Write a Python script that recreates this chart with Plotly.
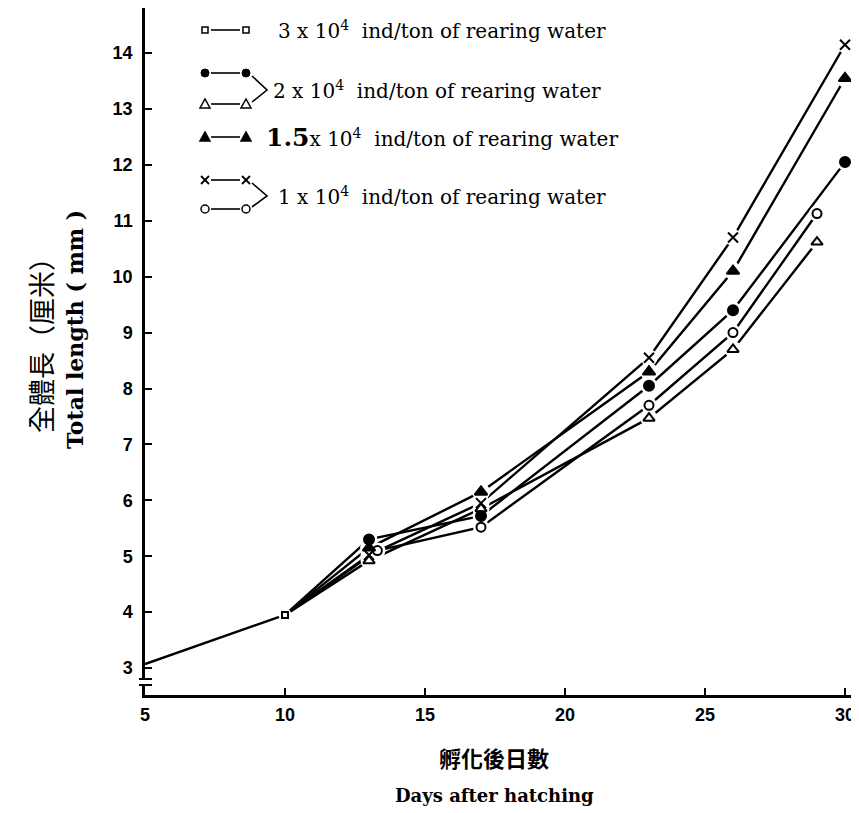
import plotly.graph_objects as go

# ---------------- data ----------------
x_ticks = [5, 10, 15, 20, 25, 30]
y_ticks = [3, 4, 5, 6, 7, 8, 9, 10, 11, 12, 13, 14]

# 3 x 10^4 ind/ton (common early growth)
days_sq = [5, 10]
len_sq = [3.07, 3.95]

# 2 x 10^4 ind/ton, filled circles
days_fc = [10, 13, 17, 23, 26, 30]
len_fc = [3.95, 5.30, 5.72, 8.05, 9.40, 12.05]

# 2 x 10^4 ind/ton, open triangles
days_ot = [10, 13, 17, 23, 26, 29]
len_ot = [3.95, 4.92, 5.85, 7.47, 8.70, 10.62]

# 1.5 x 10^4 ind/ton, filled triangles
days_ft = [10, 13, 17, 23, 26, 30]
len_ft = [3.95, 5.15, 6.15, 8.30, 10.10, 13.55]

# 1 x 10^4 ind/ton, crosses
days_x = [10, 13, 17, 23, 26, 30]
len_x = [3.95, 5.02, 5.95, 8.55, 10.70, 14.15]

# 1 x 10^4 ind/ton, open circles
days_oc = [10, 13.3, 17, 23, 26, 29]
len_oc = [3.95, 5.10, 5.52, 7.70, 9.00, 11.13]

legend_labels = [
    "3 x 10<sup>4</sup>  ind/ton of rearing water",
    "2 x 10<sup>4</sup>  ind/ton of rearing water",
    "<b><span style='font-size:25px'>1.5</span></b>x 10<sup>4</sup>  ind/ton of rearing water",
    "1 x 10<sup>4</sup>  ind/ton of rearing water",
]

y_title_zh = "全體長（厘米）"
y_title_en = "Total length ( mm )"
x_title_zh = "孵化後日數"
x_title_en = "Days after hatching"

# ---------------- layout geometry ----------------
# page body has an 8px margin, so the figure is shifted by 8px; compensate
OFF = 8
W, H = 859 - OFF, 813 - OFF
PL, PR, PT, PB = 145, 859, 8, 695      # plot area in reference pixels
L = PL - OFF
T = PT - OFF
R = 0
B = H - (PB - OFF)
PW, PH = PR - PL, PB - PT


def px(xp):
    return (xp - PL) / PW


def py(yp):
    return (PB - yp) / PH


fig = go.Figure()

# series: (days, values, symbol, size, first marker index)
series = [
    (days_sq, len_sq, "square-open", 6, 1),
    (days_fc, len_fc, "circle", 10, 1),
    (days_ot, len_ot, "triangle-up-open", 10, 1),
    (days_ft, len_ft, "triangle-up", 11, 1),
    (days_x, len_x, "x-thin-open", 10, 1),
    (days_oc, len_oc, "circle-open", 9, 1),
]

for d, v, sym, sz, i0 in series:
    fig.add_trace(go.Scatter(x=d, y=v, mode="lines",
                             line=dict(color="black", width=2.4),
                             showlegend=False, hoverinfo="skip"))
for d, v, sym, sz, i0 in series:
    fig.add_trace(go.Scatter(x=d[i0:], y=v[i0:], mode="markers",
                             marker=dict(symbol="circle", size=sz + 7, color="white",
                                         line=dict(width=0)),
                             showlegend=False, hoverinfo="skip"))
for d, v, sym, sz, i0 in series:
    fig.add_trace(go.Scatter(x=d[i0:], y=v[i0:], mode="markers",
                             marker=dict(symbol=sym, size=sz, color="black",
                                         line=dict(color="black", width=2)),
                             showlegend=False))

# ---------------- custom legend ----------------
shapes = []


def glyph(kind, cx, cy, r=4):
    x0, x1 = px(cx - r), px(cx + r)
    y0, y1 = py(cy + r), py(cy - r)
    if kind == "square":
        shapes.append(dict(type="rect", xref="paper", yref="paper", x0=px(cx - 3), x1=px(cx + 3),
                           y0=py(cy + 3), y1=py(cy - 3), line=dict(color="black", width=1.5),
                           fillcolor="white"))
    elif kind == "fcircle":
        shapes.append(dict(type="circle", xref="paper", yref="paper", x0=x0, x1=x1, y0=y0, y1=y1,
                           line=dict(color="black", width=1), fillcolor="black"))
    elif kind == "ocircle":
        shapes.append(dict(type="circle", xref="paper", yref="paper", x0=x0, x1=x1, y0=y0, y1=y1,
                           line=dict(color="black", width=1.5), fillcolor="white"))
    elif kind in ("otri", "ftri"):
        path = "M {} {} L {} {} L {} {} Z".format(px(cx - r - 1), py(cy + r), px(cx + r + 1), py(cy + r),
                                                  px(cx), py(cy - r - 1))
        shapes.append(dict(type="path", xref="paper", yref="paper", path=path,
                           line=dict(color="black", width=1.5),
                           fillcolor="black" if kind == "ftri" else "white"))
    elif kind == "x":
        shapes.append(dict(type="line", xref="paper", yref="paper", x0=x0, x1=x1, y0=y0, y1=y1,
                           line=dict(color="black", width=1.8)))
        shapes.append(dict(type="line", xref="paper", yref="paper", x0=x0, x1=x1, y0=y1, y1=y0,
                           line=dict(color="black", width=1.8)))


def sample(kind, yrow, xa=205, xb=246):
    shapes.append(dict(type="line", xref="paper", yref="paper", x0=px(xa + 6), x1=px(xb - 6),
                       y0=py(yrow), y1=py(yrow), line=dict(color="black", width=1.6)))
    glyph(kind, xa, yrow)
    glyph(kind, xb, yrow)


def bracket(ya, yb, ytip):
    path = "M {} {} L {} {} L {} {}".format(px(252), py(ya), px(267), py(ytip), px(252), py(yb))
    shapes.append(dict(type="path", xref="paper", yref="paper", path=path,
                       line=dict(color="black", width=1.6)))


sample("square", 30)
sample("fcircle", 73)
sample("otri", 104)
bracket(76, 102, 90)
sample("ftri", 137)
sample("x", 180)
sample("ocircle", 209)
bracket(183, 207, 196)

# axis break marks on the y axis
shapes.append(dict(type="rect", xref="paper", yref="paper", x0=px(140), x1=px(151),
                   y0=py(686), y1=py(679), line=dict(width=0), fillcolor="white"))
for yb in (679, 685):
    shapes.append(dict(type="line", xref="paper", yref="paper", x0=px(139), x1=px(152),
                       y0=py(yb), y1=py(yb), line=dict(color="black", width=2)))

annotations = []
leg_font = dict(family="DejaVu Serif", size=20, color="black")
for txt, xp, yp in zip(legend_labels, [276, 271, 264, 276], [30, 90, 137, 196]):
    annotations.append(dict(text=txt, xref="paper", yref="paper", x=px(xp), y=py(yp),
                            xanchor="left", yanchor="middle", showarrow=False, font=leg_font))

# axis titles
annotations.append(dict(text=y_title_zh, xref="paper", yref="paper", x=px(40), y=py(339),
                        textangle=-90, xanchor="center", yanchor="middle", showarrow=False,
                        font=dict(family="Noto Sans CJK TC", size=27, color="black")))
annotations.append(dict(text=y_title_en, xref="paper", yref="paper", x=px(75), y=py(330),
                        textangle=-90, xanchor="center", yanchor="middle", showarrow=False,
                        font=dict(family="DejaVu Serif", size=22, color="black", weight="bold")))
annotations.append(dict(text=x_title_zh, xref="paper", yref="paper", x=px(494), y=py(757),
                        xanchor="center", yanchor="middle", showarrow=False,
                        font=dict(family="Noto Sans CJK TC", size=22, color="black", weight="bold")))
annotations.append(dict(text=x_title_en, xref="paper", yref="paper", x=px(494), y=py(795),
                        xanchor="center", yanchor="middle", showarrow=False,
                        font=dict(family="DejaVu Serif", size=18, color="black", weight="bold")))

tick_font = dict(family="Liberation Sans", size=18, color="black", weight="bold")

fig.update_layout(
    width=W, height=H,
    margin=dict(l=L, r=R, t=T, b=B, pad=0),
    paper_bgcolor="white", plot_bgcolor="white",
    showlegend=False,
    shapes=shapes,
    annotations=annotations,
    xaxis=dict(range=[5, 30.5], tickvals=x_ticks, ticktext=[str(v) for v in x_ticks],
               showline=True, linecolor="black", linewidth=2.5, ticks="inside", ticklen=7,
               tickwidth=2, tickcolor="black", showgrid=False, zeroline=False, tickfont=tick_font,
               ticklabelstandoff=2, automargin=False),
    yaxis=dict(range=[2.517, 14.807], tickvals=y_ticks, ticktext=[str(v) for v in y_ticks],
               showline=True, linecolor="black", linewidth=2.5, ticks="inside", ticklen=7,
               tickwidth=2, tickcolor="black", showgrid=False, zeroline=False, tickfont=tick_font,
               ticklabelstandoff=6, automargin=False),
)

fig.write_html("out.html")
